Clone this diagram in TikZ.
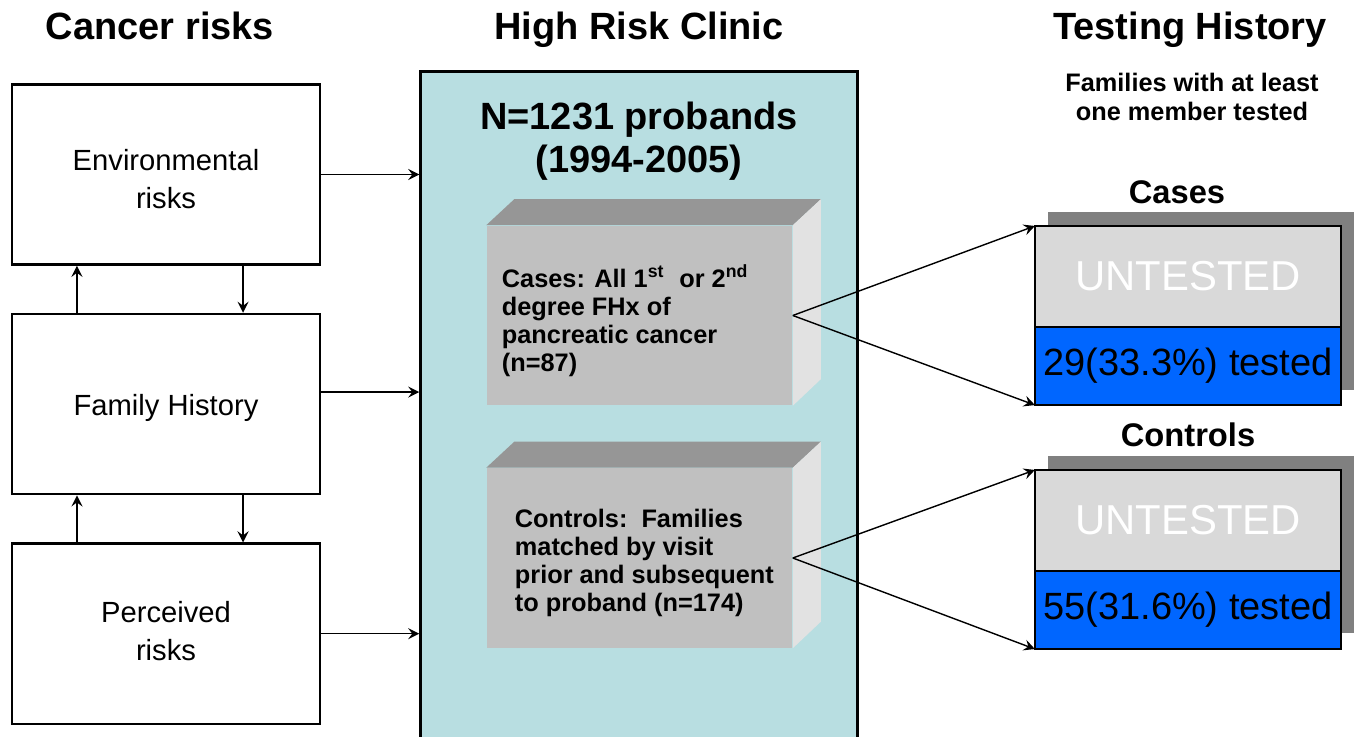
\documentclass[tikz,border=0pt]{standalone}
\usepackage{fontspec}
\setmainfont{Liberation Sans}
\usetikzlibrary{arrows, positioning}
\definecolor{clinic}{RGB}{184,222,225}
\definecolor{frontgray}{RGB}{192,192,192}
\definecolor{topgray}{RGB}{150,150,150}
\definecolor{sidegray}{RGB}{226,226,226}
\definecolor{untestgray}{RGB}{217,217,217}
\definecolor{shadowgray}{RGB}{128,128,128}
\definecolor{testblue}{RGB}{0,102,255}
\tikzstyle{heading} = [font=\fontsize{10.8}{12.2}\selectfont\bfseries, anchor=base]
\tikzstyle{riskbox} = [rectangle, minimum width=3.08cm, minimum height=1.8cm, align=center, draw=black, line width=0.7pt, font=\fontsize{8.3}{10.2}\selectfont]
\tikzstyle{clinicbox} = [rectangle, minimum width=4.36cm, minimum height=6.75cm, draw=black, line width=0.9pt, fill=clinic]
\tikzstyle{front} = [rectangle, minimum width=3.05cm, minimum height=1.79cm, inner sep=0pt, fill=frontgray]
\tikzstyle{boxtext} = [align=left, anchor=west, inner sep=0pt, font=\fontsize{7.2}{7.9}\selectfont\bfseries]
\tikzstyle{untested} = [rectangle, minimum width=3.06cm, minimum height=1.01cm, inner sep=0pt, outer sep=0pt, draw=black, line width=0.7pt, fill=untestgray, text=white, font=\fontsize{11.9}{12}\selectfont]
\tikzstyle{tested} = [rectangle, minimum width=3.06cm, minimum height=0.78cm, inner sep=0pt, outer sep=0pt, draw=black, line width=0.7pt, fill=testblue, font=\fontsize{10.8}{11}\selectfont]
\tikzstyle{subhead} = [font=\fontsize{9.3}{10}\selectfont\bfseries]
\tikzstyle{arrow} = [->,>=stealth, line width=0.4pt]

\begin{document}
\begin{tikzpicture}[x=0.01cm, y=-0.01cm]
\fill [white] (0,0) rectangle (1358,737);
\useasboundingbox (0,0) rectangle (1358,737);

% column titles
\node (t1) [heading] at (160,40) {Cancer risks};
\node (t2) [heading] at (639,40) {High Risk Clinic};
\node (t3) [heading] at (1190,40) {Testing History};
\node (fam) [align=center, font=\fontsize{7.2}{8.2}\selectfont\bfseries] at (1192,97) {Families with at least\\one member tested};

% cancer risks
\node (env) [riskbox] at (166,174.5) {\raisebox{-0.05cm}[\height][\depth]{\shortstack{Environmental\\[0.06cm]risks}}};
\node (family) [riskbox, below=0.47cm of env] {\raisebox{-0.04cm}[\height][\depth]{Family History}};
\node (perc) [riskbox, below=0.47cm of family] {\raisebox{0.03cm}[\height][\depth]{\shortstack{Perceived\\[0.06cm]risks}}};
\draw [arrow] ([xshift=-0.89cm]family.north) -- ([xshift=-0.89cm]env.south);
\draw [arrow] ([xshift=0.77cm]env.south) -- ([xshift=0.77cm]family.north);
\draw [arrow] ([xshift=-0.89cm]perc.north) -- ([xshift=-0.89cm]family.south);
\draw [arrow] ([xshift=0.77cm]family.south) -- ([xshift=0.77cm]perc.north);

% clinic
\node (hrc) [clinicbox] at (639,409) {};
\node (n) [align=center, font=\fontsize{10.8}{12.2}\selectfont\bfseries] at (639,141) {N=1231 probands\\(1994-2005)};
\coordinate (fh) at ([yshift=0.12cm]family.east);
\draw [arrow] (env.east) -- (env.east -| hrc.west);
\draw [arrow] (fh) -- (fh -| hrc.west);
\draw [arrow] (perc.east) -- (perc.east -| hrc.west);

% cases block
\node (cases) [front] at (639.5,315.5) {};
\fill [topgray] (cases.north west) -- ++(28,-26) -- ([shift={(28,-26)}]cases.north east) -- (cases.north east) -- cycle;
\fill [sidegray] (cases.north east) -- ++(28,-26) -- ++(0,180) -- (cases.south east) -- cycle;
\node (casestxt) [boxtext] at ([xshift=0.15cm, yshift=-0.05cm]cases.west) {Cases: All 1\textsuperscript{st}\ \ or 2\textsuperscript{nd}\\degree FHx of\\pancreatic cancer\\(n=87)};

% controls block
\node (ctrl) [front] at (639.5,558) {};
\fill [topgray] (ctrl.north west) -- ++(28,-26) -- ([shift={(28,-26)}]ctrl.north east) -- (ctrl.north east) -- cycle;
\fill [sidegray] (ctrl.north east) -- ++(28,-26) -- ++(0,180) -- (ctrl.south east) -- cycle;
\node (ctrltxt) [boxtext] at ([xshift=0.28cm, yshift=-0.05cm]ctrl.west) {Controls:\ \ Families\\matched by visit\\prior and subsequent\\to proband (n=174)};

% testing history
\node (hcases) [subhead] at (1177,192) {Cases};
\fill [shadowgray] (1048,212) rectangle (1354,390);
\node (casesun) [untested] at (1188,276.5) {UNTESTED};
\node (casestest) [tested, below=0pt of casesun] {29(33.3\%) tested};

\node (hctrl) [subhead] at (1188,435) {Controls};
\fill [shadowgray] (1048,456) rectangle (1354,633);
\node (ctrlun) [untested] at (1188,520.5) {UNTESTED};
\node (ctrltest) [tested, below=0pt of ctrlun] {55(31.6\%) tested};

\draw [arrow] (cases.east) -- (casesun.north west);
\draw [arrow] (cases.east) -- (casestest.south west);
\draw [arrow] (ctrl.east) -- (ctrlun.north west);
\draw [arrow] (ctrl.east) -- (ctrltest.south west);
\end{tikzpicture}
\end{document}
